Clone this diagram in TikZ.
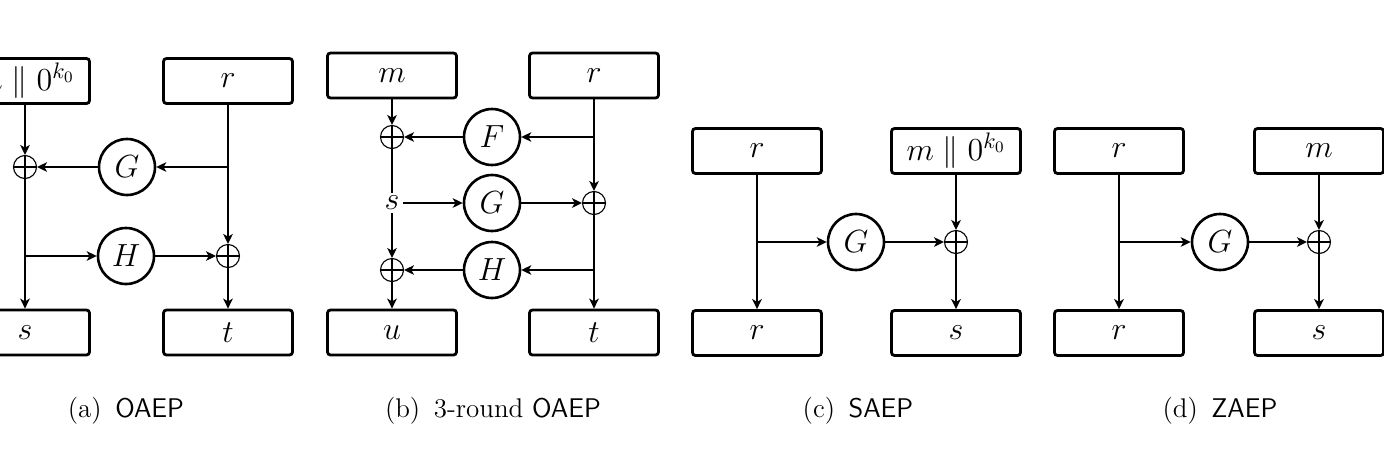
\RequirePackage{fix-cm}
\documentclass[tikz,border=0pt]{standalone}
\usepackage{amsmath}
\usetikzlibrary{arrows.meta}
\newcommand{\diagfont}{\fontsize{16}{19}\selectfont}
\newcommand{\capfontx}{\fontsize{13.5}{16}\selectfont}
\begin{document}
\begin{tikzpicture}[x=0.5pt,y=-0.5pt,
  box/.style={draw, line width=1.4pt, rounded corners=1.5pt, minimum width=64.5pt, minimum height=22.5pt, inner sep=0pt, font=\diagfont},
  fn/.style={circle, draw, line width=1.3pt, minimum size=28pt, inner sep=0pt, font=\diagfont},
  xor/.style={circle, draw, line width=0.55pt, minimum size=11.5pt, inner sep=0pt,
    path picture={\draw[line width=0.55pt] (path picture bounding box.north) -- (path picture bounding box.south)
      (path picture bounding box.west) -- (path picture bounding box.east);}},
  plain/.style={inner sep=1.5pt, font=\diagfont},
  conn/.style={line width=1.2pt, -{Stealth[length=5pt,width=4.8pt,inset=1.4pt]}},
  ln/.style={line width=1.2pt},
  captext/.style={font=\capfontx}]
\useasboundingbox (0,0) rectangle (1384,461);
\clip (0,0) rectangle (1384,461);

% ---------- (a) OAEP ----------
\node[box] (aTL) at (25,81) {$m \parallel 0^{k_0}$};
\node[box] (aTR) at (228,81) {$r$};
\node[box] (aBL) at (25,332.5) {$s$};
\node[box] (aBR) at (228,332.5) {$t$};
\node[xor] (aX1) at (25,167) {};
\node[xor] (aX2) at (228,256) {};
\node[fn] (aG) at (127,167) {$G$};
\node[fn] (aH) at (126,256) {$H$};
\coordinate (aP1) at (228,167);
\coordinate (aP2) at (25,256);
\draw[conn] (aTL) -- (aX1);
\draw[conn] (aX1) -- (aBL);
\draw[conn] (aTR) -- (aX2);
\draw[conn] (aX2) -- (aBR);
\draw[conn] (aP1) -- (aG);
\draw[conn] (aG) -- (aX1);
\draw[conn] (aP2) -- (aH);
\draw[conn] (aH) -- (aX2);
\node[captext] (capa) at (126,411) {(a)\enspace\textsf{OAEP}};

% ---------- (b) 3-round OAEP ----------
\node[box] (bTL) at (392,75.5) {$m$};
\node[box] (bTR) at (594,75.5) {$r$};
\node[box] (bBL) at (392,332.5) {$u$};
\node[box] (bBR) at (594,332.5) {$t$};
\node[xor] (bX1) at (392,137) {};
\node[plain] (bS) at (392,203) {$s$};
\node[xor] (bX2) at (392,270) {};
\node[xor] (bXR) at (594,203) {};
\node[fn] (bF) at (492,137) {$F$};
\node[fn] (bG) at (492,203) {$G$};
\node[fn] (bH) at (492,270) {$H$};
\coordinate (bP1) at (594,137);
\coordinate (bP2) at (594,270);
\draw[conn] (bTL) -- (bX1);
\draw[ln] (bX1) -- (bS);
\draw[conn] (bS) -- (bX2);
\draw[conn] (bX2) -- (bBL);
\draw[conn] (bTR) -- (bXR);
\draw[conn] (bXR) -- (bBR);
\draw[conn] (bP1) -- (bF);
\draw[conn] (bF) -- (bX1);
\draw[conn] (bS) -- (bG);
\draw[conn] (bG) -- (bXR);
\draw[conn] (bP2) -- (bH);
\draw[conn] (bH) -- (bX2);
\node[captext] (capb) at (493,411) {(b)\enspace 3-round \textsf{OAEP}};

% ---------- (c) SAEP ----------
\node[box] (cTL) at (757,151) {$r$};
\node[box] (cTR) at (956,151) {$m \parallel 0^{k_0}$};
\node[box] (cBL) at (757,333) {$r$};
\node[box] (cBR) at (956,333) {$s$};
\node[fn] (cG) at (856,242) {$G$};
\node[xor] (cX) at (956,242) {};
\coordinate (cP) at (757,242);
\draw[conn] (cTL) -- (cBL);
\draw[conn] (cP) -- (cG);
\draw[conn] (cG) -- (cX);
\draw[conn] (cTR) -- (cX);
\draw[conn] (cX) -- (cBR);
\node[captext] (capc) at (858,411) {(c)\enspace\textsf{SAEP}};

% ---------- (d) ZAEP ----------
\node[box] (dTL) at (1119,151) {$r$};
\node[box] (dTR) at (1319,151) {$m$};
\node[box] (dBL) at (1119,333) {$r$};
\node[box] (dBR) at (1319,333) {$s$};
\node[fn] (dG) at (1220,242) {$G$};
\node[xor] (dX) at (1319,242) {};
\coordinate (dP) at (1119,242);
\draw[conn] (dTL) -- (dBL);
\draw[conn] (dP) -- (dG);
\draw[conn] (dG) -- (dX);
\draw[conn] (dTR) -- (dX);
\draw[conn] (dX) -- (dBR);
\node[captext] (capd) at (1220,411) {(d)\enspace\textsf{ZAEP}};
\end{tikzpicture}
\end{document}
